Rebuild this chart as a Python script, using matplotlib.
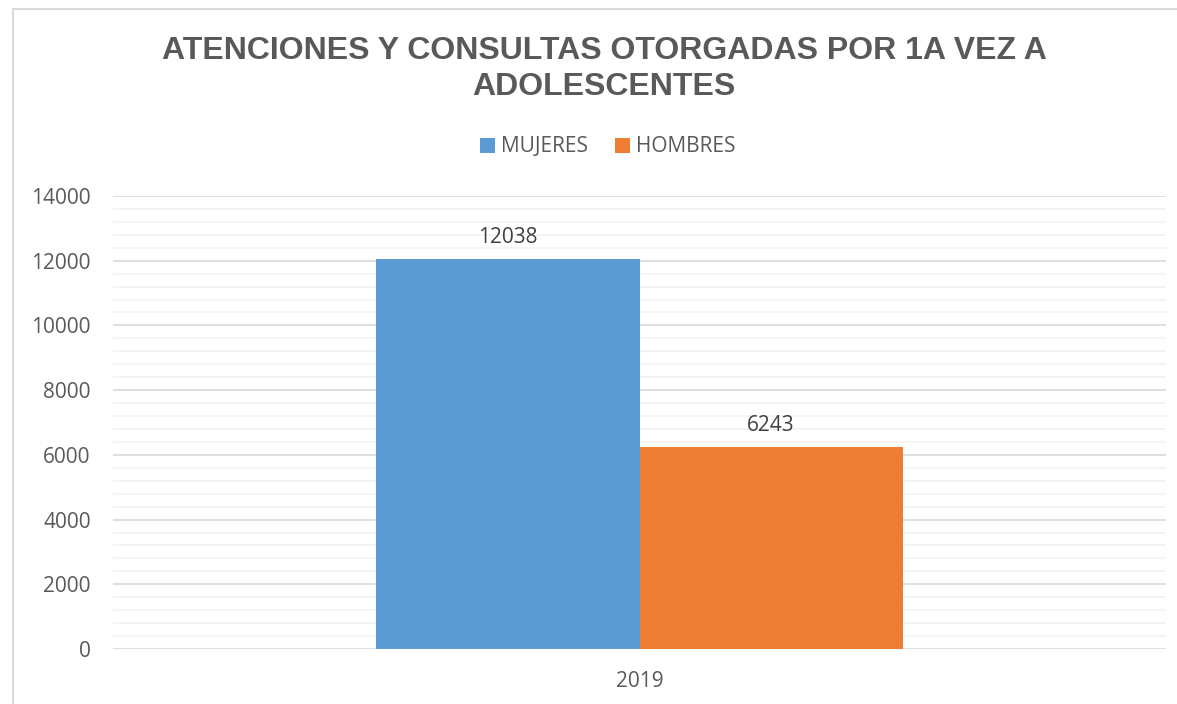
import matplotlib
matplotlib.use("Agg")
import matplotlib.pyplot as plt
from matplotlib.lines import Line2D
from matplotlib.ticker import MultipleLocator

categories = ["2019"]
series_names = ["MUJERES", "HOMBRES"]
mujeres = [12038]
hombres = [6243]
colors = ["#5B9BD5", "#ED7D31"]

FONT = "Open Sans"
FS = 15

fig = plt.figure(figsize=(11.77, 7.04), dpi=100)
ax = fig.add_axes([113/1177, 55/704, (1166-113)/1177, (649-196)/704])

w = 0.25
x = list(range(len(categories)))
b1 = ax.bar([i - w/2 for i in x], mujeres, width=w, color=colors[0], label=series_names[0], zorder=3)
b2 = ax.bar([i + w/2 for i in x], hombres, width=w, color=colors[1], label=series_names[1], zorder=3)

for bars in (b1, b2):
    for r in bars:
        ax.annotate(f"{int(r.get_height())}", (r.get_x() + r.get_width()/2, r.get_height()),
                    xytext=(0, 8), textcoords="offset points", ha="center", va="bottom",
                    fontsize=FS, color="#404040", family=FONT)

ax.set_xlim(-0.5, 0.5)
ax.set_ylim(0, 14000)
ax.yaxis.set_major_locator(MultipleLocator(2000))
ax.yaxis.set_minor_locator(MultipleLocator(400))
ax.grid(which="major", axis="y", color="#D9D9D9", linewidth=1.2, zorder=0)
ax.grid(which="minor", axis="y", color="#F2F2F2", linewidth=1.2, zorder=0)
ax.set_xticks(x)
ax.set_xticklabels(categories)
for s in ax.spines.values():
    s.set_visible(False)
ax.tick_params(axis="both", which="both", length=0, labelsize=FS, labelcolor="#595959")
ax.tick_params(axis="y", pad=16)
ax.tick_params(axis="x", pad=16)
for t in ax.get_xticklabels() + ax.get_yticklabels():
    t.set_family(FONT)

fig.text(604/1177, 1 - 69/704, "ATENCIONES Y CONSULTAS OTORGADAS POR 1A VEZ A\nADOLESCENTES",
         ha="center", va="center", fontsize=23, fontweight="bold", color="#595959",
         family="Liberation Sans", linespacing=1.22)

leg = fig.legend(handles=[b1, b2], loc="center", bbox_to_anchor=(608/1177, 1 - 147/704), ncol=2,
                 frameon=False, handlelength=0.7, handleheight=0.7,
                 handletextpad=0.3, columnspacing=1.3, prop={"family": FONT, "size": FS})
for t in leg.get_texts():
    t.set_color("#595959")

fig.add_artist(Line2D([13/1177, 13/1177], [0, 1 - 9/704], color="#D9D9D9", linewidth=1.5))
fig.add_artist(Line2D([13/1177, 1], [1 - 9/704, 1 - 9/704], color="#D9D9D9", linewidth=1.5))

fig.savefig("out.png", dpi=100)
